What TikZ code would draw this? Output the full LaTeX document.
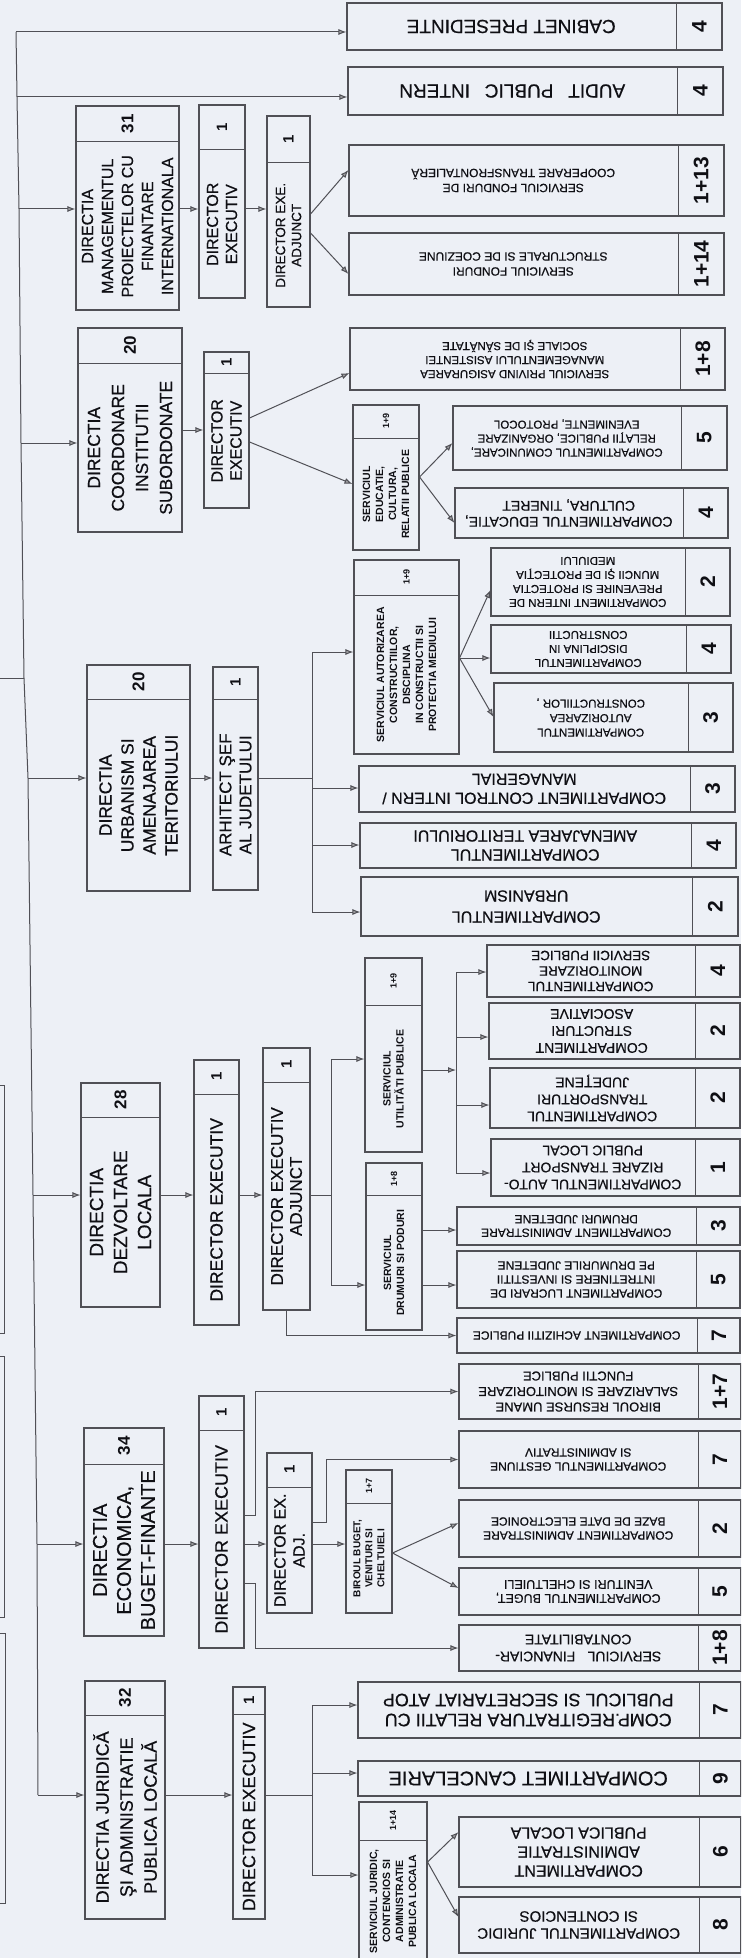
\documentclass[tikz,border=0pt]{standalone}
\usepackage{fontspec}
\setmainfont{Liberation Sans}[UprightFeatures={FakeBold=0.5}]
\usetikzlibrary{fit,calc,arrows.meta}
\definecolor{bgc}{RGB}{237,240,246}
\definecolor{lnc}{RGB}{80,80,86}
\definecolor{txc}{RGB}{15,15,20}
\newcommand{\fsz}[2]{\fontsize{#1}{#2}\selectfont}
\newcommand{\nbig}{\bfseries\fsz{21}{24}}
\newcommand{\nmid}{\bfseries\fsz{17}{20}}
\newcommand{\nsm}{\bfseries\fsz{15}{18}}
\newcommand{\ntiny}{\bfseries\fsz{9}{11}}
\tikzset{
 ln/.style={draw=lnc, line width=1pt},
 bx/.style={draw=lnc, line width=1.1pt, inner sep=0pt},
 arr/.style={ln, -{Latex[length=8pt,width=6pt,fill=lnc!55]}},
 txt/.style={text=txc, inner sep=0pt},
}
% rotated (90) box: name, NW, SE, y of divider, font, text, number, number font
\newcommand{\dirbx}[8]{%
  \node[bx, fit={(#2) (#3)}] (#1) {};
  \draw[ln] (#1.west |- 0,#4) -- (#1.east |- 0,#4);
  \node[txt, rotate=90, align=center, font=#5] at ($(#1.south west)!.5!(#1.east |- 0,#4)$) {#6};
  \node[txt, rotate=90, font=#8] at ($(#1.north west)!.5!(#1.east |- 0,#4)$) {#7};
}
% compartment box (text upside down): name, NW, SE, x of divider, font, text, number, number font
\newcommand{\compbx}[8]{%
  \node[bx, fit={(#2) (#3)}] (#1) {};
  \draw[ln] (#4,0 |- #1.north) -- (#4,0 |- #1.south);
  \node[txt, rotate=180, align=center, font=#5] at ($(#1.north west)!.5!(#4,0 |- #1.south)$) {#6};
  \node[txt, rotate=90, font=#8] at ($(#1.north east)!.5!(#4,0 |- #1.south)$) {#7};
}
\begin{document}
\begin{tikzpicture}[x=1pt,y=-1pt]
\fill[bgc] (0,0) rectangle (741,1958);
\useasboundingbox (0,0) rectangle (741,1958);
\clip (0,0) rectangle (741,1958);

% ---------- top ----------
\compbx{cab}{347,3}{722,50}{676}{\fsz{19}{22}}{CABINET PRESEDINTE}{4}{\nbig}
\compbx{aud}{348,67}{723,115}{677}{\fsz{19}{22}}{AUDIT\hspace{.5em} PUBLIC\hspace{.5em} INTERN}{4}{\nbig}

% ---------- management proiecte ----------
\dirbx{dmg}{76,106}{179,310}{142}{\fsz{16}{20}}{DIRECTIA\\MANAGEMENTUL\\PROIECTELOR CU\\FINANTARE\\INTERNATIONALA}{31}{\nmid}
\dirbx{dmgx}{199,105}{245,298}{150}{\fsz{16}{19}}{DIRECTOR\\EXECUTIV}{1}{\nsm}
\dirbx{dmga}{267,116}{310,307}{163}{\fsz{13.5}{16}}{DIRECTOR EXE.\\ADJUNCT}{1}{\nsm}
\compbx{sfc}{349,145}{724,216}{678}{\fsz{12}{15}}{SERVICIUL FONDURI DE\\COOPERARE TRANSFRONTALIERĂ}{1+13}{\nbig}
\compbx{sfs}{349,233}{724,295}{678}{\fsz{12}{15}}{SERVICIUL FONDURI\\STRUCTURALE SI DE COEZIUNE}{1+14}{\nbig}

% ---------- coordonare ----------
\dirbx{dco}{78,328}{182,532}{363}{\fsz{17.5}{24}}{DIRECTIA\\COORDONARE\\INSTITUTII\\SUBORDONATE}{20}{\nmid}
\dirbx{dcox}{204,352}{249,508}{373}{\fsz{16}{19}}{DIRECTOR\\EXECUTIV}{1}{\nsm}
\compbx{spa}{350,328}{725,390}{680}{\fsz{11.5}{14}}{SERVICIUL PRIVIND ASIGURAREA\\MANAGEMENTULUI ASISTENTEI\\SOCIALE ŞI DE SĂNĂTATE}{1+8}{\nbig}
\dirbx{sed}{353,405}{419,550}{438}{\bfseries\fsz{10.5}{13}}{SERVICIUL\\EDUCATIE,\\CULTURA,\\RELATII PUBLICE}{1+9}{\ntiny}
\compbx{ccom}{453,406}{727,470}{681}{\fsz{11.5}{14}}{COMPARTIMENTUL COMUNICARE,\\RELAŢII PUBLICE, ORGANIZARE\\EVENIMENTE, PROTOCOL}{5}{\nbig}
\compbx{ced}{455,488}{728,538}{683}{\fsz{14}{16}}{COMPARTIMENTUL EDUCATIE,\\CULTURA, TINERET}{4}{\nbig}

% ---------- urbanism ----------
\dirbx{sau}{354,560}{459,754}{595}{\bfseries\fsz{10.5}{13}}{SERVICIUL AUTORIZAREA\\CONSTRUCTIILOR,\\DISCIPLINA\\IN CONSTRUCTII SI\\PROTECTIA MEDIULUI}{1+9}{\ntiny}
\compbx{cin}{491,548}{730,616}{685}{\fsz{11.5}{14}}{COMPARTIMENT INTERN DE\\PREVENIRE SI PROTECTIA\\MUNCII ŞI DE PROTECŢIA\\MEDIULUI}{2}{\nbig}
\compbx{cdi}{491,625}{731,673}{686}{\fsz{11.5}{14}}{COMPARTIMENTUL\\DISCIPLINA IN\\CONSTRUCTII}{4}{\nbig}
\compbx{cau}{494,683}{733,752}{688}{\fsz{11.5}{14.5}}{COMPARTIMENTUL\\AUTORIZAREA\\CONSTRUCTIILOR ,}{3}{\nbig}
\dirbx{dur}{87,665}{190,891}{699}{\fsz{17.5}{22}}{DIRECTIA\\URBANISM SI\\AMENAJAREA\\TERITORIULUI}{20}{\nmid}
\dirbx{dar}{213,667}{258,890}{699}{\fsz{17}{20}}{ARHITECT ŞEF\\AL JUDETULUI}{1}{\nsm}
\compbx{cci}{359,766}{735,812}{690}{\fsz{16}{19}}{COMPARTIMENT CONTROL INTERN /\\MANAGERIAL}{3}{\nbig}
\compbx{cam}{360,823}{736,868}{691}{\fsz{16}{19}}{COMPARTIMENTUL\\AMENAJAREA TERITORIULUI}{4}{\nbig}
\compbx{curb}{361,877}{738,936}{692}{\fsz{16}{21}}{COMPARTIMENTUL\\URBANISM}{2}{\nbig}

% ---------- dezvoltare ----------
\compbx{cmo}{487,945}{740,997}{695}{\fsz{13.5}{15.5}}{COMPARTIMENTUL\\MONITORIZARE\\SERVICII PUBLICE}{4}{\nbig}
\compbx{cst}{489,1003}{740,1059}{695}{\fsz{14}{17}}{COMPARTIMENT\\STRUCTURI\\ASOCIATIVE}{2}{\nbig}
\compbx{ctr}{490,1068}{740,1128}{695}{\fsz{14}{17}}{COMPARTIMENTUL\\TRANSPORTURI\\JUDEŢENE}{2}{\nbig}
\compbx{cat}{491,1139}{740,1196}{695}{\fsz{14}{17}}{COMPARTIMENTUL AUTO-\\RIZARE TRANSPORT\\PUBLIC LOCAL}{1}{\nbig}
\compbx{cad}{457,1207}{740,1245}{696}{\fsz{12}{13.5}}{COMPARTIMENT ADMINISTRARE\\DRUMURI JUDETENE}{3}{\nbig}
\compbx{clu}{457,1251}{740,1308}{696}{\fsz{12}{14}}{COMPARTIMENT LUCRARI DE\\INTRETINERE SI INVESTITII\\PE DRUMURILE JUDETENE}{5}{\nbig}
\compbx{cac}{457,1318}{740,1353}{697}{\fsz{12}{14}}{COMPARTIMENT ACHIZITII PUBLICE}{7}{\nbig}
\dirbx{ddz}{81,1083}{160,1307}{1117}{\fsz{19}{24}}{DIRECTIA\\DEZVOLTARE\\LOCALA}{28}{\nmid}
\dirbx{ddzx}{194,1060}{239,1325}{1094}{\fsz{17.5}{20}}{DIRECTOR EXECUTIV}{1}{\nsm}
\dirbx{ddza}{263,1048}{310,1310}{1082}{\fsz{17}{19}}{DIRECTOR EXECUTIV\\ADJUNCT}{1}{\nsm}
\dirbx{sut}{365,958}{422,1152}{1005}{\bfseries\fsz{10.5}{13}}{SERVICIUL\\UTILITĂTI PUBLICE}{1+9}{\ntiny}
\dirbx{sdp}{366,1163}{422,1330}{1195}{\bfseries\fsz{10.5}{13}}{SERVICIUL\\DRUMURI SI PODURI}{1+8}{\ntiny}

% ---------- economica ----------
\dirbx{dec}{84,1428}{164,1636}{1464}{\fsz{20}{24}}{DIRECTIA\\ECONOMICA,\\BUGET-FINANTE}{34}{\nmid}
\dirbx{decx}{199,1396}{244,1648}{1430}{\fsz{18}{20}}{DIRECTOR EXECUTIV}{1}{\nsm}
\dirbx{deca}{267,1453}{312,1613}{1487}{\fsz{16}{19}}{DIRECTOR EX.\\ADJ.}{1}{\nsm}
\dirbx{bbv}{346,1470}{392,1613}{1503}{\bfseries\fsz{10}{12}}{BIROUL BUGET,\\VENITURI SI\\CHELTUIELI}{1+7}{\ntiny}
\compbx{bru}{459,1364}{741,1419}{698}{\fsz{13}{15.5}}{BIROUL RESURSE UMANE\\SALARIZARE SI MONITORIZARE\\FUNCTII PUBLICE}{1+7}{\nbig}
\compbx{cge}{459,1431}{741,1488}{698}{\fsz{12}{14}}{COMPARTIMENTUL GESTIUNE\\SI ADMINISTRATIV}{7}{\nbig}
\compbx{cbd}{459,1500}{741,1557}{698}{\fsz{12}{14}}{COMPARTIMENT ADMINISTRARE\\BAZE DE DATE ELECTRONICE}{2}{\nbig}
\compbx{cbu}{459,1568}{741,1615}{698}{\fsz{12.5}{14}}{COMPARTIMENTUL BUGET,\\VENITURI SI CHELTUIELI}{5}{\nbig}
\compbx{sfi}{459,1625}{741,1671}{698}{\fsz{14}{17}}{SERVICIUL\hspace{.6em} FINANCIAR-\\CONTABILITATE}{1+8}{\nbig}

% ---------- juridica ----------
\dirbx{djr}{85,1681}{165,1919}{1715}{\fsz{18}{24}}{DIRECTIA JURIDICĂ\\ŞI ADMINISTRATIE\\PUBLICA LOCALĂ}{32}{\nmid}
\dirbx{djrx}{233,1687}{265,1919}{1714}{\fsz{18}{20}}{DIRECTOR EXECUTIV}{1}{\nsm}
\compbx{creg}{358,1682}{741,1738}{699}{\fsz{18}{20}}{COMP.REGITRATURA RELATII CU\\PUBLICUL SI SECRETARIAT ATOP}{7}{\nbig}
\compbx{ccan}{358,1761}{741,1796}{699}{\fsz{20}{22}}{COMPARTIMET CANCELARIE}{9}{\nbig}
\dirbx{sju}{359,1802}{427,1962}{1840}{\bfseries\fsz{10.5}{13}}{SERVICIUL JURIDIC,\\CONTENCIOS SI\\ADMINISTRATIE\\PUBLICA LOCALA}{1+14}{\ntiny}
\compbx{cap}{459,1817}{741,1887}{699}{\fsz{16}{19}}{COMPARTIMENT\\ADMINISTRATIE\\PUBLICA LOCALA}{6}{\nbig}
\compbx{cju}{459,1897}{741,1953}{699}{\fsz{15}{17}}{COMPARTIMENTUL JURIDIC\\SI CONTENCIOS}{8}{\nbig}

% ---------- trunk ----------
\coordinate (t0) at (16,32);
\coordinate (t1) at (17,97);
\coordinate (t2) at (19,209);
\coordinate (t3) at (21,443);
\coordinate (tin) at (24,678);
\coordinate (t4) at (28,778);
\coordinate (t5) at (33,1195);
\coordinate (t6) at (37,1544);
\coordinate (t7) at (38,1795);
\coordinate (lin) at (0,678);
\draw[ln] (t0) -- (t1) -- (t2) -- (t3) -- (tin) -- (t4) -- (t5) -- (t6) -- (t7);
\draw[ln] (lin) -- (tin);
\draw[arr] (t0) -- (t0 -| cab.west);
\draw[arr] (t1) -- (t1 -| aud.west);

% partial boxes at the left edge
\draw[ln] (0,1085) -- (4,1085) -- (4,1333) -- (0,1333);
\draw[ln] (0,1356) -- (4,1356) -- (4,1617) -- (0,1617);
\draw[ln] (0,1633) -- (5,1633) -- (5,1903) -- (0,1903);

% management
\draw[arr] (t2) -- (t2 -| dmg.west);
\draw[arr] (t2 -| dmg.east) -- (t2 -| dmgx.west);
\draw[arr] (t2 -| dmgx.east) -- (t2 -| dmga.west);
\draw[arr] (dmga.east |- 0,214) -- (sfc.west |- 0,170);
\draw[arr] (dmga.east |- 0,233) -- (sfs.west |- 0,274);

% coordonare
\coordinate (c1) at (0,430);
\draw[arr] (t3) -- (t3 -| dco.west);
\draw[arr] (dco.east |- c1) -- (dcox.west |- c1);
\draw[arr] (dcox.east |- 0,418) -- (spa.west |- 0,373);
\draw[arr] (dcox.east |- 0,442) -- (sed.west |- 0,484);
\draw[arr] (sed.east |- 0,477) -- (ccom.west |- 0,443);
\draw[arr] (sed.east |- 0,477) -- (ced.west |- 0,523);

% urbanism
\coordinate (u0) at (312,778);
\coordinate (ua) at (312,652);
\coordinate (ub) at (312,788);
\coordinate (uc) at (312,845);
\coordinate (ud) at (312,912);
\draw[arr] (t4) -- (t4 -| dur.west);
\draw[arr] (t4 -| dur.east) -- (t4 -| dar.west);
\draw[ln] (t4 -| dar.east) -- (u0);
\draw[ln] (ua) -- (ud);
\draw[arr] (ua) -- (ua -| sau.west);
\draw[arr] (ub) -- (ub -| cci.west);
\draw[arr] (uc) -- (uc -| cam.west);
\draw[arr] (ud) -- (ud -| curb.west);
\draw[arr] (sau.east |- 0,658) -- (cin.west |- 0,590);
\draw[arr] (sau.east |- 0,658) -- (cdi.west |- 0,658);
\draw[arr] (sau.east |- 0,658) -- (cau.west |- 0,717);

% dezvoltare
\coordinate (d0) at (331,1195);
\coordinate (da) at (331,1059);
\coordinate (db) at (331,1285);
\draw[arr] (t5) -- (t5 -| ddz.west);
\draw[arr] (t5 -| ddz.east) -- (t5 -| ddzx.west);
\draw[arr] (t5 -| ddzx.east) -- (t5 -| ddza.west);
\draw[ln] (t5 -| ddza.east) -- (d0);
\draw[ln] (da) -- (db);
\draw[arr] (da) -- (da -| sut.west);
\draw[arr] (db) -- (db -| sdp.west);
\coordinate (v0) at (456,1070);
\coordinate (va) at (456,972);
\coordinate (vb) at (456,1037);
\coordinate (vc) at (456,1105);
\coordinate (vd) at (456,1173);
\draw[arr] (sut.east |- v0) -- (v0);
\draw[ln] (va) -- (vd);
\draw[arr] (va) -- (va -| cmo.west);
\draw[arr] (vb) -- (vb -| cst.west);
\draw[arr] (vc) -- (vc -| ctr.west);
\draw[arr] (vd) -- (vd -| cat.west);
\draw[arr] (sdp.east |- 0,1230) -- (cad.west |- 0,1230);
\draw[arr] (sdp.east |- 0,1285) -- (clu.west |- 0,1285);
\draw[arr] (ddza.south) |- (cac.west);

% economica
\draw[arr] (t6) -- (t6 -| dec.west);
\draw[arr] (t6 -| dec.east) -- (t6 -| decx.west);
\draw[arr] (t6 -| decx.east) -- (t6 -| deca.west);
\draw[arr] (t6 -| deca.east) -- (t6 -| bbv.west);
\draw[arr] (bbv.east |- 0,1553) -- (cbd.west |- 0,1523);
\draw[arr] (bbv.east |- 0,1553) -- (cbu.west |- 0,1588);
\draw[arr] (decx.east |- 0,1515) -- ++(11,0) |- (bru.west);
\draw[arr] (decx.east |- 0,1583) -- ++(11,0) |- (sfi.west);
\draw[arr] (deca.east |- 0,1522) -- ++(14,0) |- (cge.west);

% juridica
\coordinate (j0) at (312,1795);
\coordinate (ja) at (312,1705);
\coordinate (jb) at (312,1773);
\coordinate (jc) at (312,1875);
\draw[arr] (t7) -- (t7 -| djr.west);
\draw[arr] (t7 -| djr.east) -- (t7 -| djrx.west);
\draw[ln] (t7 -| djrx.east) -- (j0);
\draw[ln] (ja) -- (jc);
\draw[arr] (ja) -- (ja -| creg.west);
\draw[arr] (jb) -- (jb -| ccan.west);
\draw[arr] (jc) -- (jc -| sju.west);
\draw[arr] (sju.east |- 0,1862) -- (cap.west |- 0,1832);
\draw[arr] (sju.east |- 0,1862) -- (cju.west |- 0,1917);
\end{tikzpicture}
\end{document}
